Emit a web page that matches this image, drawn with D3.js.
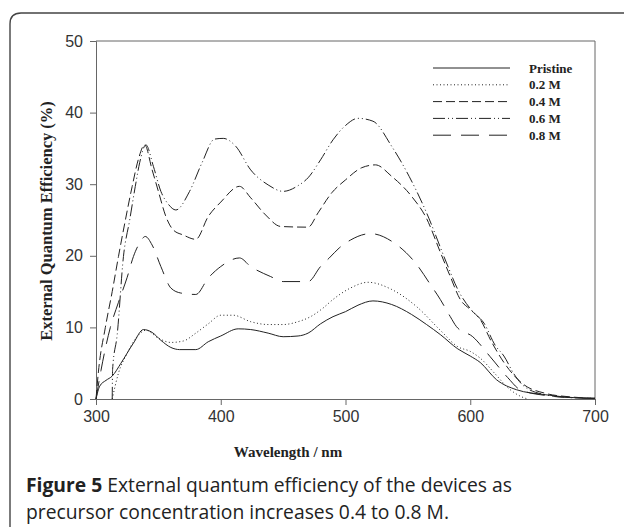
<!DOCTYPE html>
<html>
<head>
<meta charset="utf-8">
<script src="https://cdn.jsdelivr.net/npm/d3@7"></script>
<style>
  body { margin: 0; background: #fff; }
  svg { display: block; }
</style>
</head>
<body>
<div id="chart"></div>
<script>
var w = 624;
var h = 527;

// series: [wavelength nm, EQE %]
var pristine = [[300,0],[303,1.8],[308,2.6],[313,3.2],[320,5],[330,7.8],[338,9.7],[345,9.3],[352,8.2],[360,7.2],[367,6.9],[380,6.9],[390,8.0],[400,8.8],[414,9.8],[424,9.7],[438,9.2],[450,8.7],[462,8.8],[470,9.2],[480,10.5],[490,11.5],[500,12.2],[510,13.1],[522,13.7],[537,13.2],[553,11.8],[565,10.4],[576,9.0],[590,7.0],[600,6.0],[608,5.1],[621,2.7],[637,1.3],[660,0.6],[686,0.15],[700,0.05]];
var m02 = [[313,0],[318,3.6],[325,6.4],[332,8.5],[340,9.6],[350,8.5],[360,7.9],[370,8.1],[380,9.2],[390,10.5],[400,11.7],[410,11.7],[424,10.8],[438,10.4],[450,10.4],[462,10.8],[472,11.5],[482,12.7],[490,13.9],[504,15.5],[518,16.3],[537,15.3],[557,12.9],[576,9.6],[590,7.3],[600,6.65],[608,5.7],[620,3.5],[630,1.6],[640,0.4],[646,0]];
var m04 = [[300,0],[302,3.9],[307.5,10],[313,15],[318,19.9],[323,24.5],[329,29.7],[334,33.5],[339,35.5],[345,32],[350,29],[356,25.5],[362,23.6],[370,22.9],[380,22.3],[390,25.5],[400,27.5],[415,29.7],[424,28.1],[436,25.7],[448,24.1],[470,24.0],[478,26.0],[489,28.8],[500,30.6],[513,32.3],[524,32.7],[537,31.1],[553,28.3],[565,25.2],[576,20.5],[584,17.1],[592,13.9],[600,12.5],[608,11.1],[617,8],[627,5.1],[643,2.0],[660,0.8],[680,0.3],[700,0.1]];
var m06 = [[313,0],[313.3,4.1],[317,9],[322,19.9],[327,25],[331.5,29.7],[335,33],[340,35.5],[346,32.5],[352,29],[358,27.2],[364,26.4],[375,29],[385,33],[395,36.3],[402,36.4],[412,35.3],[424,32],[438,29.9],[450,29],[462,29.8],[470,30.9],[480,33.4],[490,36.2],[500,38.2],[510,39.2],[522,38.8],[537,35.3],[551,31.1],[565,26.0],[581,19.0],[590,15.3],[602,12.2],[611,10.6],[620,7.5],[627,6.0],[635,3.5],[643,1.8],[660,0.6],[680,0.2],[700,0.1]];
var m08 = [[300,0],[304,4],[311.5,10],[318,13.5],[325,17],[330,19.9],[335,21.8],[339.5,22.7],[345,21.5],[352,18.5],[360,15.5],[368,14.8],[380,14.6],[390,16.9],[400,18.5],[415,19.7],[424,18.5],[440,17.1],[450,16.4],[470,16.4],[480,18.5],[487,19.7],[495,21.1],[504,22.2],[520,23.1],[539,21.8],[557,18.8],[568,16],[576,13.9],[584,11.5],[589,10.1],[602,8.7],[616,5.9],[630,3.0],[640,1.3],[660,0.5],[680,0.2],[700,0.1]];

var seriesNames = ["Pristine", "0.2 M", "0.4 M", "0.6 M", "0.8 M"];
var seriesData = [pristine, m02, m04, m06, m08];
var dashes = ["none", "1,2.5", "9,4", "12,3,1,3,1,3", "18,10"];

var xTicks = [300, 400, 500, 600, 700];
var yTicks = [0, 10, 20, 30, 40, 50];

var plotLeft = 96, plotRight = 595, plotTop = 41, plotBottom = 399;

var x = d3.scaleLinear().domain([300, 700]).range([plotLeft, plotRight]);
var y = d3.scaleLinear().domain([0, 50]).range([plotBottom, plotTop]);

var svg = d3.select("#chart")
			.append("svg")
			.attr("width", w)
			.attr("height", h);

// outer figure frame (rounded top-left corner)
svg.append("path")
	.attr("d", "M10,527 V24 Q10,13 21,13 H624")
	.attr("fill", "none")
	.attr("stroke", "#444")
	.attr("stroke-width", 1.4);

// plot box: top and right edges
svg.append("path")
	.attr("d", "M" + plotLeft + "," + plotTop + " H" + plotRight + " V" + plotBottom)
	.attr("fill", "none")
	.attr("stroke", "#666")
	.attr("stroke-width", 1);

var xAxis = svg.append("g")
	.attr("transform", "translate(0," + plotBottom + ")")
	.call(d3.axisBottom(x).tickValues(xTicks).tickSize(6).tickPadding(6));

var yAxis = svg.append("g")
	.attr("transform", "translate(" + plotLeft + ",0)")
	.call(d3.axisLeft(y).tickValues(yTicks).tickSize(6).tickPadding(7));

[xAxis, yAxis].forEach(function(g) {
	g.select(".domain").attr("stroke", "#666");
	g.selectAll(".tick line").attr("stroke", "#666");
	g.selectAll(".tick text")
		.attr("fill", "#333")
		.style("font-family", "'Liberation Sans', Arial, sans-serif")
		.style("font-size", "16px");
});

var line = d3.line()
	.x(function(d) { return x(d[0]); })
	.y(function(d) { return y(d[1]); })
	.curve(d3.curveMonotoneX);

svg.selectAll("path.series")
	.data(seriesData)
	.enter()
	.append("path")
	.attr("class", "series")
	.attr("fill", "none")
	.attr("stroke", "#222")
	.attr("stroke-width", 1)
	.attr("stroke-dasharray", function(d, i) { return dashes[i]; })
	.attr("d", line);

// legend
var legend = svg.selectAll("g.legend")
	.data(seriesNames)
	.enter()
	.append("g")
	.attr("class", "legend")
	.attr("transform", function(d, i) { return "translate(433," + (68 + i * 16.8) + ")"; });

legend.append("line")
	.attr("x1", 0)
	.attr("x2", 77)
	.attr("stroke", "#222")
	.attr("stroke-width", 1)
	.attr("stroke-dasharray", function(d, i) { return dashes[i]; });

legend.append("text")
	.attr("x", 96)
	.attr("y", 4.5)
	.style("font-family", "'Liberation Serif', 'Times New Roman', serif")
	.style("font-weight", "bold")
	.style("font-size", "13px")
	.attr("fill", "#222")
	.text(function(d) { return d; });

// axis titles
svg.append("text")
	.attr("transform", "translate(52,221) rotate(-90)")
	.attr("text-anchor", "middle")
	.style("font-family", "'Liberation Serif', 'Times New Roman', serif")
	.style("font-weight", "bold")
	.style("font-size", "16.5px")
	.attr("fill", "#222")
	.text("External Quantum Efficiency (%)");

svg.append("text")
	.attr("x", 288)
	.attr("y", 457)
	.attr("text-anchor", "middle")
	.style("font-family", "'Liberation Serif', 'Times New Roman', serif")
	.style("font-weight", "bold")
	.style("font-size", "15px")
	.attr("fill", "#222")
	.text("Wavelength / nm");

// caption
var caption = svg.append("text")
	.style("font-family", "'Open Sans', sans-serif")
	.style("font-size", "19.3px")
	.attr("fill", "#222");

var line1 = caption.append("tspan").attr("x", 26).attr("y", 492);
line1.append("tspan").style("font-weight", "bold").text("Figure 5");
line1.append("tspan").text(" External quantum efficiency of the devices as");
caption.append("tspan").attr("x", 26).attr("y", 519).text("precursor concentration increases 0.4 to 0.8 M.");
</script>
</body>
</html>
